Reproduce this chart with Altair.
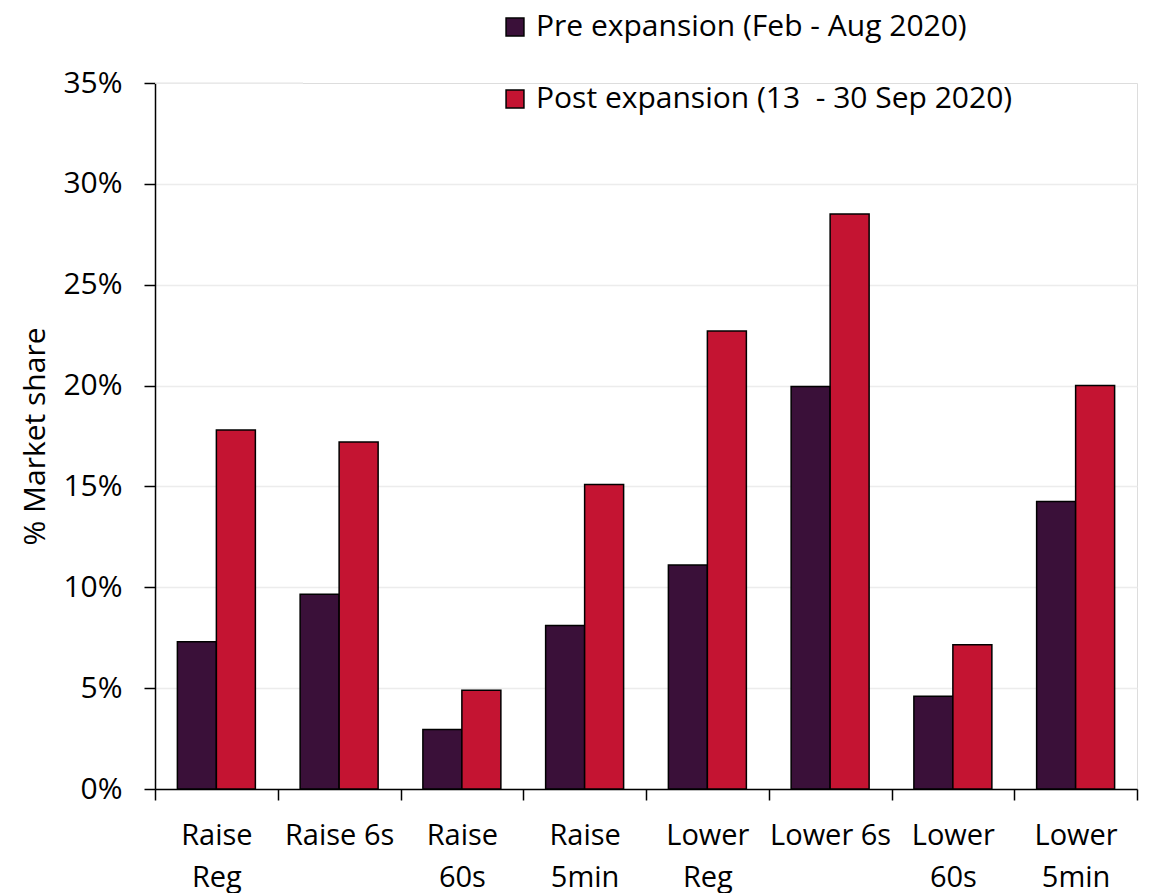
import altair as alt
import pandas as pd

categories = ["Raise|Reg", "Raise 6s", "Raise|60s", "Raise|5min",
              "Lower|Reg", "Lower 6s", "Lower|60s", "Lower|5min"]
series = ["Pre expansion (Feb - Aug 2020)", "Post expansion (13\u00a0 - 30 Sep 2020)"]
pre_values = [0.073, 0.0965, 0.0295, 0.081, 0.111, 0.1995, 0.046, 0.1425]
post_values = [0.178, 0.172, 0.049, 0.151, 0.227, 0.285, 0.0715, 0.200]
colors = ["#3a1039", "#c41432"]
top_grid = [0.35]

rows = []
for c, p, q in zip(categories, pre_values, post_values):
    rows.append({"cat": c, "series": series[0], "value": p})
    rows.append({"cat": c, "series": series[1], "value": q})
df = pd.DataFrame(rows)

FONT = "Open Sans"

bars = alt.Chart(df).mark_bar(stroke="black", strokeWidth=1.5).encode(
    x=alt.X("cat:N", sort=categories,
            scale=alt.Scale(paddingInner=0, paddingOuter=0),
            axis=alt.Axis(title=None, labelAngle=0, tickBand="extent",
                          labelExpr="isValid(datum.value) ? split(datum.value, '|') : ''",
                          labelFontSize=29, labelFont=FONT, labelColor="black",
                          labelLineHeight=42, labelPadding=21,
                          tickSize=11, tickColor="black", tickWidth=1.5,
                          domainColor="black", domainWidth=1.5, grid=False)),
    xOffset=alt.XOffset("series:N", sort=series,
                        scale=alt.Scale(paddingInner=0, paddingOuter=0.574)),
    y=alt.Y("value:Q",
            scale=alt.Scale(domain=[0, 0.35], nice=False),
            axis=alt.Axis(title="% Market share", format=".0%",
                          values=[0, 0.05, 0.1, 0.15, 0.2, 0.25, 0.3, 0.35],
                          labelFontSize=30, labelFont=FONT, labelColor="black",
                          labelPadding=22, tickSize=11, tickColor="black",
                          tickWidth=1.5, domainColor="black", domainWidth=1.5,
                          titleFontSize=30, titleFont=FONT, titleFontWeight="normal",
                          titleColor="black", titlePadding=12,
                          grid=True,
                          gridColor={"condition": {"test": "datum.value >= 0.35", "value": "transparent"},
                                     "value": "#ececec"},
                          gridWidth=1.5)),
    fill=alt.Fill("series:N", sort=series,
                  scale=alt.Scale(domain=series, range=colors),
                  legend=alt.Legend(title=None, orient="none", legendX=345, legendY=-71,
                                    symbolType="square", symbolSize=320,
                                    symbolStrokeColor="black", symbolStrokeWidth=1.5,
                                    labelFontSize=30, labelFont=FONT, labelColor="black",
                                    labelOffset=6, rowPadding=42,
                                    labelLimit=0)),
)

grid35 = alt.Chart(pd.DataFrame({"v": top_grid})).mark_rule(
    color="#ececec", strokeWidth=1.5).encode(
    y="v:Q", x=alt.value(0), x2=alt.value(148))

chart = alt.layer(grid35, bars).properties(
    width=982, height=706,
    autosize=alt.AutoSizeParams(type="none"),
    padding={"left": 147, "top": 75, "right": 5, "bottom": 115},
).configure_view(stroke=None).configure(background="white")

chart.save("out.html", embed_options={"renderer": "svg", "actions": False})
